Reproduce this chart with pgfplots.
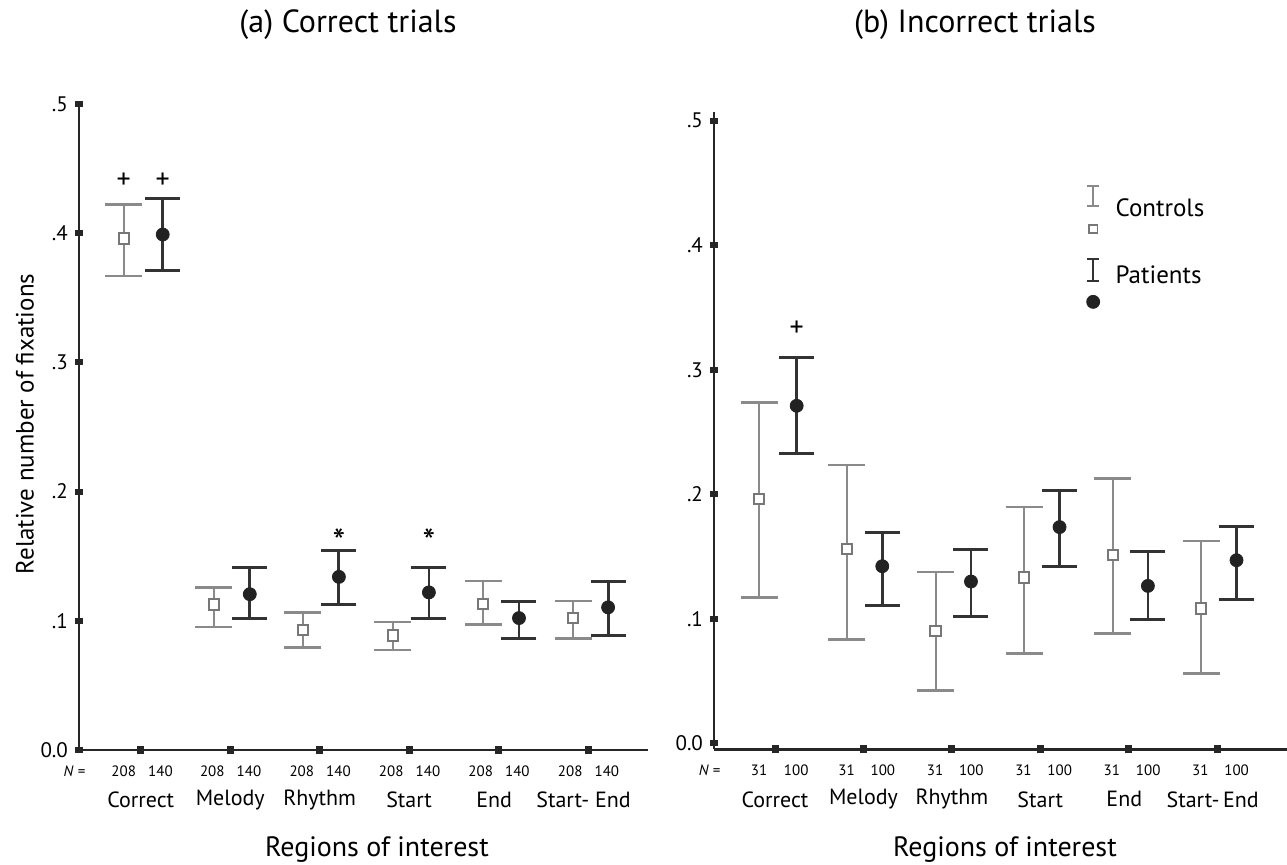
\documentclass[border=0pt]{standalone}
\usepackage{fontspec}
\setmainfont{PT Sans}
\usepackage{pgfplots}
\pgfplotsset{compat=1.18}
\usepackage{pgfplotstable}
\definecolor{ctrl}{HTML}{8A8A8A}
\definecolor{ctrlbox}{HTML}{777777}
\definecolor{pat}{HTML}{333333}
\definecolor{patdot}{HTML}{222222}

\pgfplotstableread{
x y ep em
-0.190 0.3960 0.0260 0.0290
0.817 0.1127 0.0133 0.0176
1.812 0.0928 0.0134 0.0134
2.819 0.0887 0.0105 0.0114
3.826 0.1129 0.0178 0.0157
4.832 0.1021 0.0131 0.0160
}\leftC
\pgfplotstableread{
x y ep em
0.246 0.3990 0.0280 0.0280
1.219 0.1206 0.0207 0.0191
2.215 0.1340 0.0207 0.0213
3.221 0.1220 0.0193 0.0202
4.228 0.1021 0.0126 0.0160
5.224 0.1104 0.0203 0.0217
}\leftP
\pgfplotstableread{
x y ep em
-0.181 0.1964 0.0773 0.0790
0.814 0.1560 0.0677 0.0726
1.817 0.0904 0.0474 0.0477
2.818 0.1332 0.0568 0.0608
3.821 0.1514 0.0613 0.0632
4.819 0.1083 0.0544 0.0519
}\rightC
\pgfplotstableread{
x y ep em
0.245 0.2711 0.0388 0.0383
1.213 0.1423 0.0273 0.0316
2.216 0.1300 0.0260 0.0284
3.218 0.1737 0.0297 0.0314
4.217 0.1265 0.0276 0.0271
5.219 0.1471 0.0268 0.0318
}\rightP

\pgfplotsset{
  panel/.style={
    scale only axis, axis lines=left,
    axis line style={-, line width=1.2pt, color=black!85},
    clip=false, enlargelimits=false,
    xtick={0,1,2,3,4,5}, xticklabels={},
    ytick={0,0.1,0.2,0.3,0.4,0.5}, yticklabels={0.0,.1,.2,.3,.4,.5},
    yticklabel style={font=\fontsize{10.5}{12}\selectfont, xshift=0pt},
    tick align=center, major tick length=4pt,
    xtick style={line width=3.5pt, black!85},
    ytick style={line width=3pt, black!85},
  },
  ctrlplot/.style={only marks, forget plot, mark=square*, mark size=2.6pt,
    mark options={draw=ctrlbox, fill=white, line width=1pt},
    error bars/.cd, y dir=both, y explicit,
    error bar style={ctrl, line width=1.1pt},
    error mark options={ctrl, line width=1.3pt, mark size=9.25pt, rotate=90}},
  patplot/.style={only marks, forget plot, mark=*, mark size=3.25pt,
    mark options={draw=patdot, fill=patdot},
    error bars/.cd, y dir=both, y explicit,
    error bar style={pat, line width=1.4pt},
    error mark options={pat, line width=1.5pt, mark size=8.75pt, rotate=90}},
}
\newcommand{\nlab}[3]{\node[font=\fontsize{7.5}{8}\selectfont, yshift=-10.5pt] at (axis cs:#1,#3) {#2};}
\newcommand{\clab}[3]{\node[font=\fontsize{11}{13}\selectfont, yshift=-25pt] at (axis cs:#1,#3) {#2};}
\newcommand{\pluslab}[2]{\node[font=\fontsize{14}{16}\selectfont] at (axis cs:#1,#2) {+};}
\newcommand{\astlab}[2]{\node[font=\fontsize{18}{20}\selectfont, yshift=-3pt] at (axis cs:#1,#2) {*};}

\begin{document}
\begin{tikzpicture}
\useasboundingbox (0,0) rectangle (643.5pt,432pt);

\node[font=\fontsize{16}{19}\selectfont] at (174pt,419.5pt) {(a) Correct trials};
\node[font=\fontsize{16}{19}\selectfont] at (487.5pt,419.5pt) {(b) Incorrect trials};
\node[rotate=90, font=\fontsize{12.5}{14}\selectfont] at (12.5pt,220pt) {Relative number of fixations};

% ---------- left panel ----------
\begin{axis}[panel, at={(39.5pt,57pt)}, anchor=south west,
  width=284.5pt, height=323pt,
  xmin=-0.69, xmax=5.67, ymin=0, ymax=0.5]
\addplot[ctrlplot] table[x=x, y=y, y error plus=ep, y error minus=em] {\leftC};
\addplot[patplot] table[x=x, y=y, y error plus=ep, y error minus=em] {\leftP};
\pluslab{-0.19}{0.441}\pluslab{0.246}{0.441}
\astlab{2.215}{0.166}\astlab{3.221}{0.166}
\node[font=\fontsize{7.5}{8}\selectfont, yshift=-10.5pt] at (axis cs:-0.74,0) {\textit{N} =};
\nlab{-0.19}{208}{0}\nlab{0.22}{140}{0}
\nlab{0.80}{208}{0}\nlab{1.21}{140}{0}
\nlab{1.80}{208}{0}\nlab{2.21}{140}{0}
\nlab{2.80}{208}{0}\nlab{3.21}{140}{0}
\nlab{3.80}{208}{0}\nlab{4.21}{140}{0}
\nlab{4.80}{208}{0}\nlab{5.21}{140}{0}
\clab{0}{Correct}{0}
\clab{1}{Melody}{0}
\clab{2}{Rhythm}{0}
\clab{3}{Start}{0}
\clab{3.95}{End}{0}
\clab{4.95}{Start- End}{0}
\node[font=\fontsize{14}{16}\selectfont, yshift=-50pt] at (axis cs:2.64,0) {Regions of interest};
\end{axis}

% ---------- right panel ----------
\begin{axis}[panel, at={(357pt,57.35pt)}, anchor=south west,
  width=286.5pt, height=318.65pt,
  xmin=-0.69, xmax=5.79, ymin=-0.0047, ymax=0.507,
  legend style={at={(axis description cs:0.649,0.8855)}, anchor=north west,
    draw=none, fill=none, inner sep=0pt, row sep=12pt,
    font=\fontsize{12.5}{14}\selectfont},
  legend cell align=left]
\addlegendimage{legend image code/.code={
  \draw[ctrl, line width=0.7pt] (3pt,1.5pt) -- (3pt,11.5pt) (0pt,1.5pt) -- (6pt,1.5pt) (0pt,11.5pt) -- (6pt,11.5pt);
  \draw[ctrlbox, line width=0.8pt, fill=white] (0.9pt,-12.1pt) rectangle (5.1pt,-7.9pt);
  \path (12pt,0pt);
}}
\addlegendentry{Controls}
\addlegendimage{legend image code/.code={
  \draw[pat, line width=0.8pt] (3pt,-2.5pt) -- (3pt,8.5pt) (0pt,-2.5pt) -- (6pt,-2.5pt) (0pt,8.5pt) -- (6pt,8.5pt);
  \fill[patdot] (3pt,-13pt) circle (3.25pt);
  \path (12pt,0pt);
}}
\addlegendentry{Patients}
\addplot[ctrlplot] table[x=x, y=y, y error plus=ep, y error minus=em] {\rightC};
\addplot[patplot] table[x=x, y=y, y error plus=ep, y error minus=em] {\rightP};
\pluslab{0.245}{0.333}
\node[font=\fontsize{7.5}{8}\selectfont, yshift=-10.5pt] at (axis cs:-0.74,-0.0047) {\textit{N} =};
\nlab{-0.18}{31}{-0.0047}\nlab{0.24}{100}{-0.0047}
\nlab{0.81}{31}{-0.0047}\nlab{1.22}{100}{-0.0047}
\nlab{1.81}{31}{-0.0047}\nlab{2.22}{100}{-0.0047}
\nlab{2.81}{31}{-0.0047}\nlab{3.22}{100}{-0.0047}
\nlab{3.81}{31}{-0.0047}\nlab{4.22}{100}{-0.0047}
\nlab{4.81}{31}{-0.0047}\nlab{5.22}{100}{-0.0047}
\clab{0}{Correct}{-0.0047}
\clab{1}{Melody}{-0.0047}
\clab{2}{Rhythm}{-0.0047}
\clab{3}{Start}{-0.0047}
\clab{3.95}{End}{-0.0047}
\clab{4.95}{Start-\,End}{-0.0047}
\node[font=\fontsize{14}{16}\selectfont, yshift=-50pt] at (axis cs:2.6,-0.0047) {Regions of interest};
\end{axis}
\end{tikzpicture}
\end{document}
